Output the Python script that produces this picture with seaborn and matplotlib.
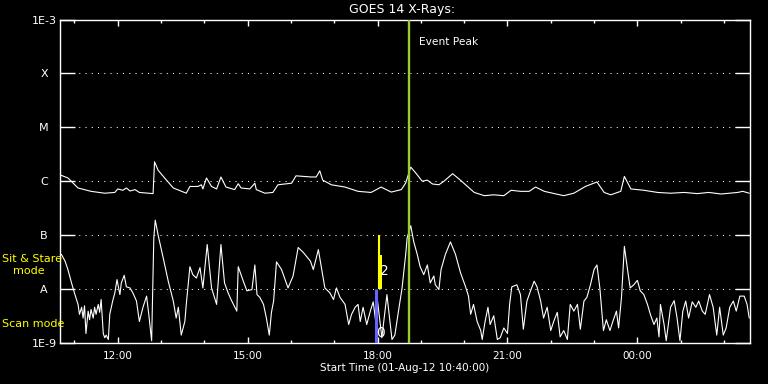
import pandas as pd
import seaborn as sns
import matplotlib.pyplot as plt
import matplotlib.dates as mdates
from matplotlib.ticker import NullLocator

# Start of the plotted interval
start_time = pd.Timestamp('2012-08-01 10:40:00')
span_min = 956

# Long channel (upper trace): minutes after start, flux in W/m^2
long_min = [1, 11, 25, 43, 62, 76, 80, 87, 92, 97,
            104, 110, 129, 131, 136, 145, 157, 175, 180, 191,
            196, 198, 203, 210, 217, 223, 230, 242, 247, 251,
            263, 270, 272, 284, 295, 302, 321, 327, 348, 355,
            360, 364, 376, 395, 413, 431, 445, 452, 459, 473,
            479, 486, 493, 502, 509, 516, 525, 532, 544, 553,
            562, 574, 588, 601, 615, 625, 638, 650, 659, 671,
            685, 698, 712, 728, 744, 754, 763, 777, 782, 791,
            809, 828, 846, 865, 883, 899, 916, 939, 946, 955]
long_flux = [1.3e-6, 1.15e-6, 7.5e-7, 6.5e-7, 6.0e-7, 6.2e-7, 7.2e-7, 6.8e-7, 7.5e-7, 6.6e-7,
             7.0e-7, 6.2e-7, 5.9e-7, 2.3e-6, 1.6e-6, 1.15e-6, 7.5e-7, 6.0e-7, 8.0e-7, 8.0e-7,
             8.6e-7, 7.2e-7, 1.15e-6, 8.0e-7, 7.2e-7, 1.2e-6, 7.8e-7, 7.0e-7, 9.0e-7, 7.5e-7,
             7.2e-7, 9.2e-7, 7.0e-7, 6.0e-7, 6.2e-7, 8.6e-7, 9.2e-7, 1.26e-6, 1.2e-6, 1.2e-6,
             1.56e-6, 1.05e-6, 8.6e-7, 7.8e-7, 6.5e-7, 6.2e-7, 7.8e-7, 7.0e-7, 6.3e-7, 7.0e-7,
             9.3e-7, 1.83e-6, 1.42e-6, 1.0e-6, 1.05e-6, 8.9e-7, 8.6e-7, 1.0e-6, 1.38e-6, 1.1e-6,
             8.6e-7, 6.2e-7, 5.4e-7, 5.6e-7, 5.4e-7, 6.8e-7, 6.5e-7, 6.5e-7, 7.8e-7, 6.5e-7,
             5.9e-7, 5.4e-7, 6.0e-7, 8.0e-7, 9.7e-7, 6.2e-7, 5.6e-7, 6.5e-7, 1.23e-6, 7.2e-7,
             6.8e-7, 6.2e-7, 6.0e-7, 6.2e-7, 5.9e-7, 6.2e-7, 5.8e-7, 6.2e-7, 6.5e-7, 6.0e-7]

# Short channel (lower trace)
short_min = [2, 7, 11, 16, 20, 25, 27, 30, 32, 34,
             36, 39, 41, 43, 46, 48, 50, 53, 55, 57,
             60, 62, 64, 67, 69, 73, 76, 79, 83, 85,
             89, 92, 97, 101, 106, 110, 115, 120, 123, 127,
             130, 132, 136, 143, 150, 157, 161, 164, 168, 173,
             175, 180, 184, 189, 194, 198, 204, 210, 217, 223,
             228, 233, 237, 245, 247, 254, 259, 266, 270, 273,
             277, 282, 286, 290, 293, 296, 300, 307, 316, 323,
             330, 337, 347, 351, 358, 363, 367, 374, 379, 383,
             388, 395, 400, 404, 409, 413, 416, 420, 425, 430,
             434, 438, 440, 446, 453, 460, 464, 469, 474, 479,
             481, 486, 490, 495, 499, 504, 509, 513, 518, 520,
             525, 528, 534, 541, 548, 555, 562, 566, 569, 573,
             578, 583, 585, 589, 593, 596, 601, 606, 610, 615,
             620, 623, 626, 633, 638, 642, 647, 652, 657, 661,
             666, 670, 675, 680, 684, 689, 693, 698, 703, 707,
             712, 717, 721, 726, 730, 735, 740, 744, 748, 753,
             757, 762, 766, 771, 774, 778, 782, 786, 790, 795,
             800, 804, 809, 814, 818, 823, 827, 830, 832, 837,
             840, 846, 851, 855, 859, 863, 867, 871, 876, 881,
             885, 890, 894, 900, 905, 910, 914, 919, 923, 928,
             933, 937, 942, 948, 952, 955]
short_flux = [4.4e-8, 3.3e-8, 2.3e-8, 1.3e-8, 8.5e-9, 5.2e-9, 3.4e-9, 4.6e-9, 2.9e-9, 4.9e-9,
              1.5e-9, 3.9e-9, 2.7e-9, 4.2e-9, 2.9e-9, 4.6e-9, 3.4e-9, 5.2e-9, 3.7e-9, 6.4e-9,
              1.5e-9, 1.25e-9, 1.4e-9, 1.16e-9, 3.4e-9, 6.0e-9, 8.5e-9, 1.5e-8, 7.9e-9, 1.3e-8,
              1.8e-8, 1.1e-8, 1.05e-8, 8.5e-9, 6.0e-9, 2.5e-9, 4.6e-9, 7.4e-9, 3.4e-9, 1.1e-9,
              8.9e-8, 1.9e-7, 1.0e-7, 3.8e-8, 1.4e-8, 6.0e-9, 2.9e-9, 4.6e-9, 1.4e-9, 2.5e-9,
              5.2e-9, 2.6e-8, 1.85e-8, 1.6e-8, 2.5e-8, 1.05e-8, 6.7e-8, 1.05e-8, 5.2e-9, 6.7e-8,
              1.3e-8, 8.5e-9, 6.4e-9, 3.9e-9, 2.6e-8, 1.4e-8, 9.3e-9, 9.8e-9, 2.8e-8, 7.9e-9,
              7.0e-9, 5.2e-9, 2.9e-9, 1.4e-9, 3.7e-9, 6.0e-9, 3.2e-8, 2.3e-8, 1.05e-8, 1.75e-8,
              5.9e-8, 4.8e-8, 3.3e-8, 2.3e-8, 5.4e-8, 2.2e-8, 1.05e-8, 8.5e-9, 6.4e-9, 1.05e-8,
              7.0e-9, 5.2e-9, 2.2e-9, 3.4e-9, 4.6e-9, 5.2e-9, 2.5e-9, 4.6e-9, 2.2e-9, 3.9e-9,
              5.8e-9, 2.2e-9, 6.0e-9, 1.25e-9, 7.9e-9, 1.16e-9, 1.4e-9, 3.9e-9, 1.05e-8, 4.4e-8,
              8.9e-8, 1.5e-7, 7.7e-8, 4.4e-8, 2.6e-8, 1.85e-8, 2.8e-8, 1.3e-8, 1.75e-8, 1.2e-8,
              9.8e-9, 2.3e-8, 4.4e-8, 7.5e-8, 4.4e-8, 2.0e-8, 1.1e-8, 7.4e-9, 3.4e-9, 5.2e-9,
              2.5e-9, 1.7e-9, 1.16e-9, 2.5e-9, 4.6e-9, 2.2e-9, 3.2e-9, 1.16e-9, 1.25e-9, 1.9e-9,
              1.5e-9, 5.2e-9, 1.1e-8, 1.2e-8, 7.9e-9, 1.8e-9, 6.0e-9, 9.3e-9, 1.4e-8, 1.1e-8,
              6.0e-9, 2.9e-9, 4.6e-9, 1.7e-9, 2.5e-9, 3.7e-9, 1.3e-9, 1.7e-9, 1.16e-9, 5.2e-9,
              3.9e-9, 5.2e-9, 1.8e-9, 6.0e-9, 7.0e-9, 1.2e-8, 2.3e-8, 2.8e-8, 1.05e-8, 1.7e-9,
              2.7e-9, 1.7e-9, 2.5e-9, 3.9e-9, 1.9e-9, 7.0e-9, 6.2e-8, 2.5e-8, 1.05e-8, 1.2e-8,
              1.45e-8, 9.3e-9, 7.9e-9, 5.2e-9, 3.4e-9, 2.2e-9, 2.9e-9, 1.3e-9, 5.2e-9, 2.2e-9,
              1.1e-9, 4.6e-9, 6.1e-9, 2.9e-9, 1.1e-9, 3.9e-9, 6.0e-9, 2.9e-9, 5.8e-9, 4.6e-9,
              6.0e-9, 3.9e-9, 3.4e-9, 7.9e-9, 4.6e-9, 1.4e-9, 4.6e-9, 1.4e-9, 1.9e-9, 4.6e-9,
              6.0e-9, 3.9e-9, 7.4e-9, 7.4e-9, 5.2e-9, 2.9e-9]

# Flare class levels
level_values = [1e-9, 1e-8, 1e-7, 1e-6, 1e-5, 1e-4, 1e-3]
level_labels = ['1E-9', 'A', 'B', 'C', 'M', 'X', '1E-3']

# Event marker and observing-mode bars
event_peak = pd.Timestamp('2012-08-01 18:44')
stare_time = pd.Timestamp('2012-08-01 18:02')
stare_top = 1e-7
stare_body_time = pd.Timestamp('2012-08-01 18:03')
stare_body_top = 4.2e-8
scan_time = pd.Timestamp('2012-08-01 17:58')

df_long = pd.DataFrame({'time': start_time + pd.to_timedelta(long_min, unit='min'), 'flux': long_flux})
df_short = pd.DataFrame({'time': start_time + pd.to_timedelta(short_min, unit='min'), 'flux': short_flux})

sns.set_style('ticks')
plt.rcParams['font.family'] = ['DejaVu Sans']

fig = plt.figure(figsize=(7.68, 3.84), dpi=100, facecolor='black')
ax = fig.add_axes([0.0781, 0.1068, 0.8984, 0.8424], facecolor='black')

sns.lineplot(data=df_long, x='time', y='flux', color='white', lw=0.8, estimator=None, ax=ax)
sns.lineplot(data=df_short, x='time', y='flux', color='white', lw=0.8, estimator=None, ax=ax)

ax.set_yscale('log')
ax.set_ylim(1e-9, 1e-3)
ax.set_xlim(start_time, start_time + pd.Timedelta(minutes=span_min))

# dotted class lines
for lv in level_values[1:-1]:
    ax.axhline(lv, color='white', lw=0.75, ls=(0, (1, 5)), zorder=1)

# mode bars
ax.vlines(scan_time, 1e-9, 1e-8, color='#6464ff', lw=2.2, zorder=3)
ax.vlines(stare_time, 1e-8, stare_top, color='yellow', lw=1.5, zorder=3)
ax.vlines(stare_body_time, 1e-8, stare_body_top, color='yellow', lw=2.9, zorder=3)
ax.text(pd.Timestamp('2012-08-01 18:10'), 2.2e-8, '2', color='white', fontsize=10,
        ha='center', va='center')
ax.text(pd.Timestamp('2012-08-01 18:04'), 1.55e-9, '0', color='white', fontsize=10,
        ha='center', va='center')

ax.axvline(event_peak, color='#9acd32', lw=1.7, zorder=4)
ax.annotate('Event Peak', xy=(event_peak, 1), xycoords=('data', 'axes fraction'),
            xytext=(7, -16.5), textcoords='offset points', color='white',
            fontsize=7.7, ha='left', va='center')

ax.set_yticks(level_values)
ax.set_yticklabels(level_labels)
ax.yaxis.set_minor_locator(NullLocator())
for lab in ax.get_yticklabels():
    lab.set_horizontalalignment('center')

ax.xaxis.set_major_locator(mdates.HourLocator(byhour=range(0, 24, 3)))
ax.xaxis.set_minor_locator(mdates.HourLocator())
ax.xaxis.set_major_formatter(mdates.DateFormatter('%H:%M'))

ax.tick_params(axis='y', which='major', direction='in', length=11, width=1,
               left=True, right=True, colors='white', labelsize=8, pad=11.5)
ax.tick_params(axis='x', which='major', direction='in', length=4.5, width=1,
               top=True, bottom=True, colors='white', labelsize=7.5, pad=5.5)
ax.tick_params(axis='x', which='minor', direction='in', length=2.5, width=1,
               top=True, bottom=True, colors='white')

for sp in ax.spines.values():
    sp.set_color('white')
    sp.set_linewidth(1)

ax.set_xlabel('')
ax.set_ylabel('')
ax.grid(False)

fig.text(402 / 768, 1 - 9.5 / 384, 'GOES 14 X-Rays:', color='white', fontsize=9,
         ha='center', va='center')
fig.text(405 / 768, 1 - 368 / 384, 'Start Time (01-Aug-12 10:40:00)', color='white',
         fontsize=7.5, ha='center', va='center')
fig.text(2 / 768, 1 - 258.5 / 384, 'Sit & Stare', color='yellow', fontsize=8,
         ha='left', va='center')
fig.text(12.7 / 768, 1 - 271 / 384, 'mode', color='yellow', fontsize=8,
         ha='left', va='center')
fig.text(2 / 768, 1 - 324 / 384, 'Scan mode', color='yellow', fontsize=8,
         ha='left', va='center')

fig.savefig('out.png', dpi=100, facecolor='black')
